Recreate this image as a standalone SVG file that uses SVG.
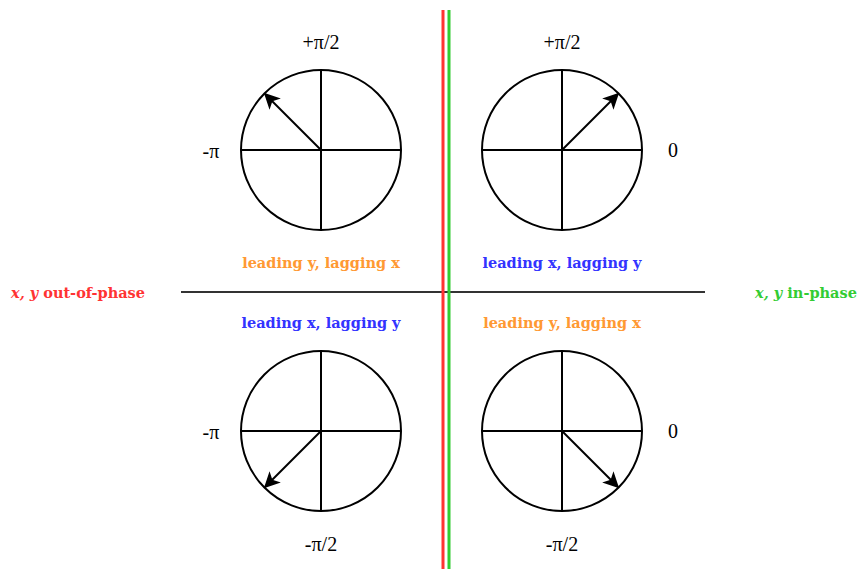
<svg xmlns="http://www.w3.org/2000/svg" width="857" height="569" viewBox="0 0 857 569">
<style>
.c{fill:#fff;stroke:#000;stroke-width:2}
.ax{stroke:#000;stroke-width:2}
.vec{stroke:#000;stroke-width:2;marker-end:url(#ah)}
.ang{font-family:"Liberation Serif",serif;font-size:20px;fill:#000;text-anchor:middle}
.lab{font-family:"DejaVu Serif",serif;font-size:14.5px;font-weight:bold;text-anchor:middle}
.or{fill:#FF9933}.bl{fill:#3333FF}.rd{fill:#FF3333}.gr{fill:#33CC33}
</style>
<defs>
<marker id="ah" viewBox="0 0 10 10" refX="9" refY="5" markerWidth="8" markerHeight="8" orient="auto" markerUnits="strokeWidth">
<path d="M0,0 L10,5 L0,10 L2.5,5 Z" fill="#000"/>
</marker>
</defs>
<g id="connectors">
<line x1="181" y1="292" x2="705" y2="292" stroke="#333" stroke-width="2"/>
<line x1="443" y1="10" x2="443" y2="569" stroke="#FF3333" stroke-width="3"/>
<line x1="449" y1="10" x2="449" y2="569" stroke="#33CC33" stroke-width="3"/>
</g>
<g id="circle-tl">
<circle class="c" cx="321" cy="150" r="80"/>
<line class="ax" x1="241" y1="150" x2="401" y2="150"/>
<line class="ax" x1="321" y1="70" x2="321" y2="230"/>
<line class="vec" x1="321" y1="150" x2="265" y2="94"/>
</g>
<g id="circle-tr">
<circle class="c" cx="562" cy="150" r="80"/>
<line class="ax" x1="482" y1="150" x2="642" y2="150"/>
<line class="ax" x1="562" y1="70" x2="562" y2="230"/>
<line class="vec" x1="562" y1="150" x2="618" y2="94"/>
</g>
<g id="circle-bl">
<circle class="c" cx="321" cy="431" r="80"/>
<line class="ax" x1="241" y1="431" x2="401" y2="431"/>
<line class="ax" x1="321" y1="351" x2="321" y2="511"/>
<line class="vec" x1="321" y1="431" x2="265" y2="487"/>
</g>
<g id="circle-br">
<circle class="c" cx="562" cy="431" r="80"/>
<line class="ax" x1="482" y1="431" x2="642" y2="431"/>
<line class="ax" x1="562" y1="351" x2="562" y2="511"/>
<line class="vec" x1="562" y1="431" x2="618" y2="487"/>
</g>
<g id="angle-labels">
<text class="ang" x="321" y="49">+π/2</text>
<text class="ang" x="562" y="49">+π/2</text>
<text class="ang" x="211" y="158">-π</text>
<text class="ang" x="673" y="157">0</text>
<text class="ang" x="211" y="439">-π</text>
<text class="ang" x="673" y="438">0</text>
<text class="ang" x="321" y="551">-π/2</text>
<text class="ang" x="562" y="551">-π/2</text>
</g>
<g id="quadrant-labels">
<text class="lab or" x="321" y="268">leading y, lagging x</text>
<text class="lab bl" x="562" y="268">leading x, lagging y</text>
<text class="lab bl" x="321" y="328">leading x, lagging y</text>
<text class="lab or" x="562" y="328">leading y, lagging x</text>
</g>
<g id="phase-labels">
<text class="lab rd" x="78" y="298"><tspan font-style="italic">x, y</tspan> out-of-phase</text>
<text class="lab gr" x="806" y="298"><tspan font-style="italic">x, y</tspan> in-phase</text>
</g>
</svg>
